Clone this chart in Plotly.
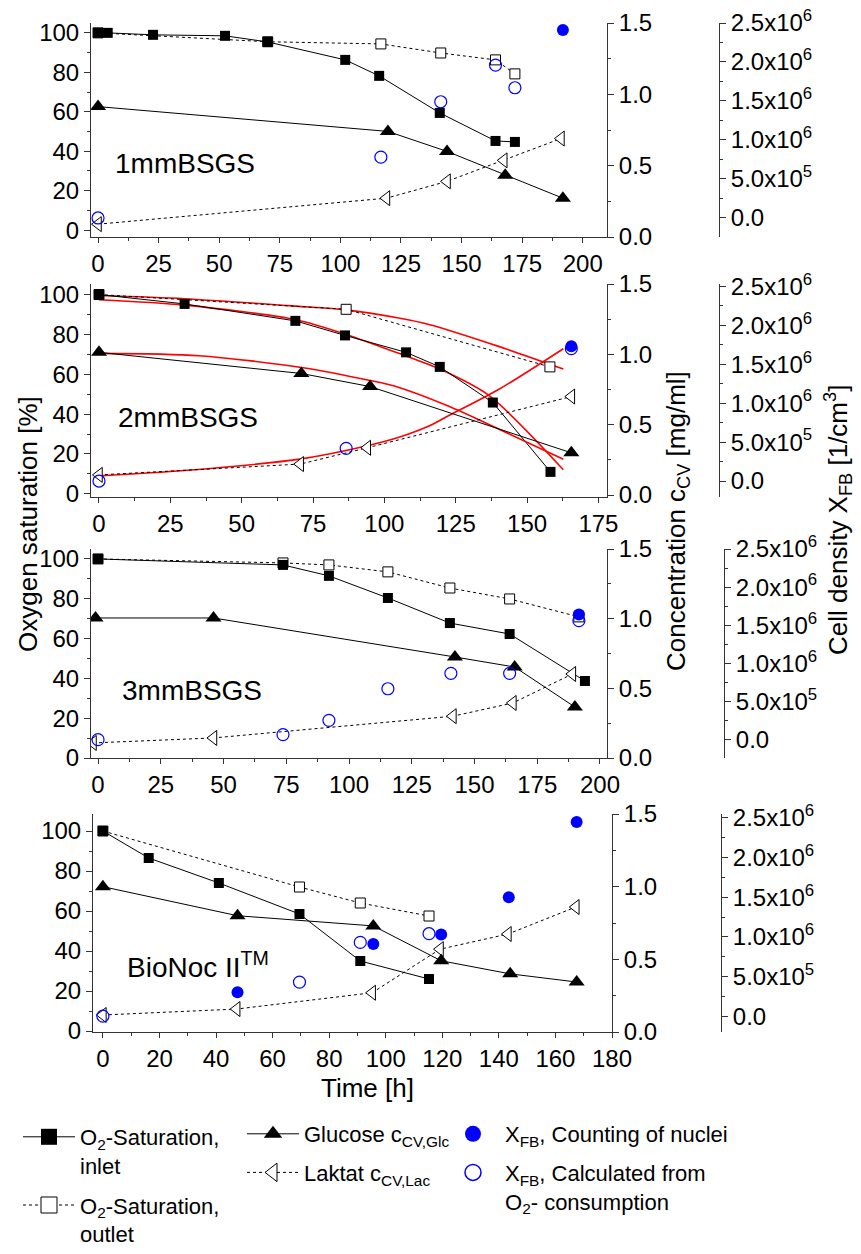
import plotly.graph_objects as go

FONT = "Liberation Sans, Arial, sans-serif"
BLUE = "#0000ff"
RED = "#ff0000"
AX = "#333333"

# ---------------- Panel 1: 1 mm BSGS ----------------
p1_t_in = [0, 4, 22.7, 52.4, 70, 102, 116, 141, 164, 172]
p1_o2_in = [100, 100, 99, 98.5, 95.4, 86.3, 78.2, 59.4, 45.2, 44.7]
p1_t_out = [0, 70, 116.7, 141.4, 164, 172]
p1_o2_out = [100, 95.5, 94.4, 89.8, 86.3, 79.2]
p1_t_glc = [0, 119.6, 144, 168, 191.8]
p1_glc = [0.914, 0.74, 0.60, 0.433, 0.272]
p1_t_lac = [0, 119, 144, 167.4, 191]
p1_lac = [0.09, 0.272, 0.39, 0.537, 0.69]
p1_t_calc = [0, 116.7, 141.4, 164, 172]
p1_x_calc = [0, 0.78e6, 1.49e6, 1.96e6, 1.67e6]
p1_t_count = [191.8]
p1_x_count = [2.41e6]

# ---------------- Panel 2: 2 mm BSGS ----------------
p2_t_in = [0, 30, 68.8, 86.2, 107.6, 119.4, 138, 158.2]
p2_o2_in = [100, 95.3, 86.8, 79.5, 71, 63.7, 45.8, 11]
p2_t_out = [0, 86.6, 158]
p2_o2_out = [100, 92.6, 63.7]
p2_t_glc = [0, 70.9, 95, 165.5]
p2_glc = [1.014, 0.864, 0.771, 0.30]
p2_t_lac = [0, 70.5, 94, 165.5]
p2_lac = [0.143, 0.22, 0.336, 0.70]
p2_t_calc = [0, 86.6, 165.5]
p2_x_calc = [0, 0.42e6, 1.70e6]
p2_t_count = [165.5]
p2_x_count = [1.73e6]
# model fits (red)
p2_fit_out_t = [0, 30, 69, 86.6, 105, 115.6, 140, 162.7]
p2_fit_out = [99.5, 97.9, 94.2, 92.3, 88.2, 85.0, 74.0, 62.6]
p2_fit_in_t = [0, 30, 69, 86.6, 105, 119.4, 136.5, 162.7]
p2_fit_in = [97.4, 94.7, 87.4, 80, 70.5, 62.6, 49.5, 12.1]
p2_fit_glc_t = [0, 35, 70.9, 95, 105.1, 122.6, 140, 162.7]
p2_fit_glc = [1.007, 0.99, 0.907, 0.814, 0.765, 0.631, 0.47, 0.255]
p2_fit_lac_t = [0, 30, 70.9, 94, 105.1, 115.6, 122.6, 140, 162.7]
p2_fit_lac = [0.136, 0.174, 0.257, 0.35, 0.41, 0.49, 0.565, 0.75, 1.04]

# ---------------- Panel 3: 3 mm BSGS ----------------
p3_t_in = [0, 73.7, 92, 115.5, 140.2, 164, 194]
p3_o2_in = [100, 97, 91.5, 80.4, 67.8, 62.3, 38.7]
p3_t_out = [0, 73.7, 92, 115.5, 140.2, 164, 191.6]
p3_o2_out = [100, 98, 97, 93.5, 85.4, 79.9, 70.9]
p3_t_glc = [-1, 46, 142.2, 166, 190]
p3_glc = [1.005, 1.005, 0.725, 0.653, 0.366]
p3_t_lac = [-2, 46, 141.4, 165.3, 189]
p3_lac = [0.108, 0.144, 0.30, 0.395, 0.603]
p3_t_calc = [0, 73.7, 92, 115.5, 140.6, 164, 191.6]
p3_x_calc = [0, 0.067e6, 0.254e6, 0.668e6, 0.87e6, 0.87e6, 1.56e6]
p3_t_count = [191.6]
p3_x_count = [1.64e6]

# ---------------- Panel 4: BioNoc II ----------------
p4_t_in = [0, 16.2, 41, 69.5, 91, 115.3]
p4_o2_in = [100, 86.5, 74, 58.5, 35, 26]
p4_t_out = [0, 69.5, 91, 115.3]
p4_o2_out = [100, 72, 64, 57.5]
p4_t_glc = [0, 47.6, 95.6, 119.6, 144, 167.5]
p4_glc = [1.0, 0.80, 0.73, 0.49, 0.40, 0.344]
p4_t_lac = [0, 47.3, 95.2, 119.2, 143.2, 167.2]
p4_lac = [0.117, 0.158, 0.27, 0.57, 0.674, 0.86]
p4_t_calc = [0, 69.5, 91, 115.3]
p4_x_calc = [0, 0.43e6, 0.93e6, 1.04e6]
p4_t_count = [47.6, 95.6, 119.6, 143.5, 167.5]
p4_x_count = [0.30e6, 0.91e6, 1.03e6, 1.50e6, 2.45e6]

# tick labels
left_ticks = [0, 20, 40, 60, 80, 100]
conc_ticks = [0, 0.5, 1.0, 1.5]
conc_ticktext = ["0.0", "0.5", "1.0", "1.5"]
cell_tickvals = [0, 0.5e6, 1.0e6, 1.5e6, 2.0e6, 2.5e6]
cell_ticktext = ["0.0", "5.0x10<sup>5</sup>", "1.0x10<sup>6</sup>", "1.5x10<sup>6</sup>",
                 "2.0x10<sup>6</sup>", "2.5x10<sup>6</sup>"]
cell_minor = [-0.25e6, 0.25e6, 0.75e6, 1.25e6, 1.75e6, 2.25e6]

panel_labels = ["1mmBSGS", "2mmBSGS", "3mmBSGS", "BioNoc II<sup>TM</sup>"]

panels = [
    dict(t_in=p1_t_in, o_in=p1_o2_in, t_out=p1_t_out, o_out=p1_o2_out,
         t_glc=p1_t_glc, glc=p1_glc, t_lac=p1_t_lac, lac=p1_lac,
         t_calc=p1_t_calc, x_calc=p1_x_calc, t_count=p1_t_count, x_count=p1_x_count),
    dict(t_in=p2_t_in, o_in=p2_o2_in, t_out=p2_t_out, o_out=p2_o2_out,
         t_glc=p2_t_glc, glc=p2_glc, t_lac=p2_t_lac, lac=p2_lac,
         t_calc=p2_t_calc, x_calc=p2_x_calc, t_count=p2_t_count, x_count=p2_x_count),
    dict(t_in=p3_t_in, o_in=p3_o2_in, t_out=p3_t_out, o_out=p3_o2_out,
         t_glc=p3_t_glc, glc=p3_glc, t_lac=p3_t_lac, lac=p3_lac,
         t_calc=p3_t_calc, x_calc=p3_x_calc, t_count=p3_t_count, x_count=p3_x_count),
    dict(t_in=p4_t_in, o_in=p4_o2_in, t_out=p4_t_out, o_out=p4_o2_out,
         t_glc=p4_t_glc, glc=p4_glc, t_lac=p4_t_lac, lac=p4_lac,
         t_calc=p4_t_calc, x_calc=p4_x_calc, t_count=p4_t_count, x_count=p4_x_count),
]

W, H = 861, 1254

# layout geometry (pixels)
geom = [
    dict(x0=91, x1=607, top=23, bot=237, third=719, xr=[-2.9, 210], yl=[-3.5, 105],
         yr=[0, 1.5], y3=[-0.244e6, 2.5e6], dt=25, label=(113, 163)),
    dict(x0=91, x1=607, top=284, bot=497, third=719, xr=[-2.8, 178], yl=[-1.6, 105.3],
         yr=[-0.014, 1.5], y3=[-0.205e6, 2.53e6], dt=25, label=(116, 417)),
    dict(x0=91, x1=607, top=549, bot=758, third=724, xr=[-2.8, 202.8], yl=[0, 105],
         yr=[0, 1.5], y3=[-0.24e6, 2.5e6], dt=25, label=(120, 690)),
    dict(x0=93, x1=612, top=814, bot=1032, third=721, xr=[-3.5, 180], yl=[-0.5, 108.5],
         yr=[0, 1.5], y3=[-0.2e6, 2.55e6], dt=20, label=(125, 965)),
]

fig = go.Figure()
tickfont = dict(family=FONT, size=24, color="black")
layout = {}


def ax_name(prefix, n):
    return prefix if n == 1 else f"{prefix}{n}"


for k, (p, g) in enumerate(zip(panels, geom), start=1):
    xa = ax_name("x", k)
    yl = ax_name("y", 3 * k - 2)
    yr = ax_name("y", 3 * k - 1)
    yc = ax_name("y", 3 * k)
    xdom = [g["x0"] / W, g["x1"] / W]
    ydom = [1 - g["bot"] / H, 1 - g["top"] / H]
    common = dict(showgrid=False, zeroline=False, showline=True, linecolor=AX, linewidth=1,
                  ticks="outside", tickcolor=AX, ticklen=6, tickwidth=1, tickfont=tickfont)
    xcommon = dict(common, ticklen=5)
    layout[ax_name("xaxis", k)] = dict(domain=xdom, anchor=yl, range=g["xr"], dtick=g["dt"],
                                      tick0=0, minor=dict(dtick=g["dt"] / 2, ticklen=3,
                                                          tickcolor=AX, ticks="outside"),
                                      **xcommon)
    layout[ax_name("yaxis", 3 * k - 2)] = dict(domain=ydom, anchor=xa, range=g["yl"],
                                              tickvals=left_ticks,
                                              minor=dict(tickvals=[10, 30, 50, 70, 90],
                                                         ticklen=3, tickcolor=AX, ticks="outside"),
                                              **common)
    layout[ax_name("yaxis", 3 * k - 1)] = dict(overlaying=yl, anchor=xa, side="right",
                                              range=g["yr"], tickvals=conc_ticks,
                                              ticktext=conc_ticktext,
                                              minor=dict(tickvals=[0.25, 0.75, 1.25],
                                                         ticklen=3, tickcolor=AX, ticks="outside"),
                                              **common)
    layout[ax_name("yaxis", 3 * k)] = dict(overlaying=yl, anchor="free", side="right",
                                          position=g["third"] / W, range=g["y3"],
                                          tickvals=cell_tickvals, ticktext=cell_ticktext,
                                          minor=dict(tickvals=cell_minor, ticklen=3,
                                                     tickcolor=AX, ticks="outside"),
                                          **common)

    def add(x, y, yaxis, **kw):
        fig.add_trace(go.Scatter(x=x, y=y, xaxis=xa, yaxis=yaxis, showlegend=False,
                                 hoverinfo="skip", **kw))

    # red model fits (panel 2 only)
    if k == 2:
        red = dict(color=RED, width=1.6, shape="spline", smoothing=0.8)
        add(p2_fit_out_t, p2_fit_out, yl, mode="lines", line=red)
        add(p2_fit_in_t, p2_fit_in, yl, mode="lines", line=red)
        add(p2_fit_glc_t, p2_fit_glc, yr, mode="lines", line=red)
        add(p2_fit_lac_t, p2_fit_lac, yr, mode="lines", line=red)

    add(p["t_out"], p["o_out"], yl, mode="lines+markers",
        line=dict(color="black", width=1, dash="3px,3px"),
        marker=dict(symbol="square", size=10, color="white", line=dict(color="black", width=1)))
    add(p["t_in"], p["o_in"], yl, mode="lines+markers", line=dict(color="black", width=1),
        marker=dict(symbol="square", size=10, color="black"))
    add(p["t_lac"], p["lac"], yr, mode="lines+markers",
        line=dict(color="black", width=1, dash="3px,3px"),
        marker=dict(symbol="triangle-left", size=13, color="white",
                    line=dict(color="black", width=1)))
    add(p["t_glc"], p["glc"], yr, mode="lines+markers", line=dict(color="black", width=1),
        marker=dict(symbol="triangle-up", size=14, color="black"))
    add(p["t_count"], p["x_count"], yc, mode="markers",
        marker=dict(symbol="circle", size=12, color=BLUE))
    add(p["t_calc"], p["x_calc"], yc, mode="markers",
        marker=dict(symbol="circle-open", size=12, color=BLUE, line=dict(width=1.2)))

# legend entries (legend-only traces)
LEG = dict(x=[None], y=[None], xaxis="x", yaxis="y", hoverinfo="skip")
fig.add_trace(go.Scatter(name="O<sub>2</sub>-Saturation,<br>inlet", legend="legend",
                         legendgroup="a", mode="lines+markers",
                         line=dict(color="black", width=1),
                         marker=dict(symbol="square", size=16, color="black"), **LEG))
fig.add_trace(go.Scatter(name="O<sub>2</sub>-Saturation,<br>outlet", legend="legend",
                         legendgroup="b", mode="lines+markers",
                         line=dict(color="black", width=1, dash="3px,3px"),
                         marker=dict(symbol="square", size=16, color="white",
                                     line=dict(color="black", width=1)), **LEG))
fig.add_trace(go.Scatter(name="Glucose c<sub>CV,Glc</sub>", legend="legend2",
                         legendgroup="c", mode="lines+markers",
                         line=dict(color="black", width=1),
                         marker=dict(symbol="triangle-up", size=16, color="black"), **LEG))
fig.add_trace(go.Scatter(name="Laktat c<sub>CV,Lac</sub>", legend="legend2",
                         legendgroup="d", mode="lines+markers",
                         line=dict(color="black", width=1, dash="3px,3px"),
                         marker=dict(symbol="triangle-left", size=16, color="white",
                                     line=dict(color="black", width=1)), **LEG))
fig.add_trace(go.Scatter(name="X<sub>FB</sub>, Counting of nuclei", legend="legend3",
                         legendgroup="e", mode="markers",
                         marker=dict(symbol="circle", size=16, color=BLUE), **LEG))
fig.add_trace(go.Scatter(name="X<sub>FB</sub>, Calculated from<br>O<sub>2</sub>- consumption",
                         legend="legend3", legendgroup="f", mode="markers",
                         marker=dict(symbol="circle-open", size=16, color=BLUE,
                                     line=dict(width=1.5)), **LEG))

legfont = dict(family=FONT, size=22, color="black")
legbase = dict(xanchor="left", yanchor="top", font=legfont, valign="top",
               bgcolor="rgba(0,0,0,0)", borderwidth=0, traceorder="grouped")
layout["legend"] = dict(x=18 / W, y=1 - 1116 / H, itemwidth=52, tracegroupgap=8, **legbase)
layout["legend2"] = dict(x=242 / W, y=1 - 1113 / H, itemwidth=52, tracegroupgap=7, **legbase)
layout["legend3"] = dict(x=441 / W, y=1 - 1113 / H, itemwidth=54, tracegroupgap=7, **legbase)

annotations = []
for lab, g in zip(panel_labels, geom):
    lx, ly = g["label"]
    annotations.append(dict(text=lab, x=lx / W, y=1 - ly / H, xref="paper", yref="paper",
                            xanchor="left", yanchor="middle", showarrow=False,
                            font=dict(family=FONT, size=28, color="black")))
titlefont = dict(family=FONT, size=26, color="black")
annotations += [
    dict(text="Time [h]", x=367 / W, y=1 - 1088 / H, xref="paper", yref="paper",
         xanchor="center", yanchor="middle", showarrow=False, font=titlefont),
    dict(text="Oxygen saturation [%]", x=28 / W, y=1 - 524 / H, xref="paper", yref="paper",
         xanchor="center", yanchor="middle", showarrow=False, textangle=-90, font=titlefont),
    dict(text="Concentration c<sub>CV</sub> [mg/ml]", x=677 / W, y=1 - 521 / H, xref="paper",
         yref="paper", xanchor="center", yanchor="middle", showarrow=False, textangle=-90,
         font=titlefont),
    dict(text="Cell density X<sub>FB</sub> [1/cm<sup>3</sup>]", x=838 / W, y=1 - 520 / H,
         xref="paper", yref="paper", xanchor="center", yanchor="middle", showarrow=False,
         textangle=-90, font=titlefont),
]

fig.update_layout(width=W, height=H, margin=dict(l=0, r=0, t=0, b=0, autoexpand=False),
                  paper_bgcolor="white", plot_bgcolor="rgba(0,0,0,0)",
                  font=dict(family=FONT, color="black"), annotations=annotations,
                  showlegend=True, **layout)

fig.write_html("out.html", config={"displayModeBar": False},
               post_script="document.body.style.margin='0';document.body.style.padding='0';")
